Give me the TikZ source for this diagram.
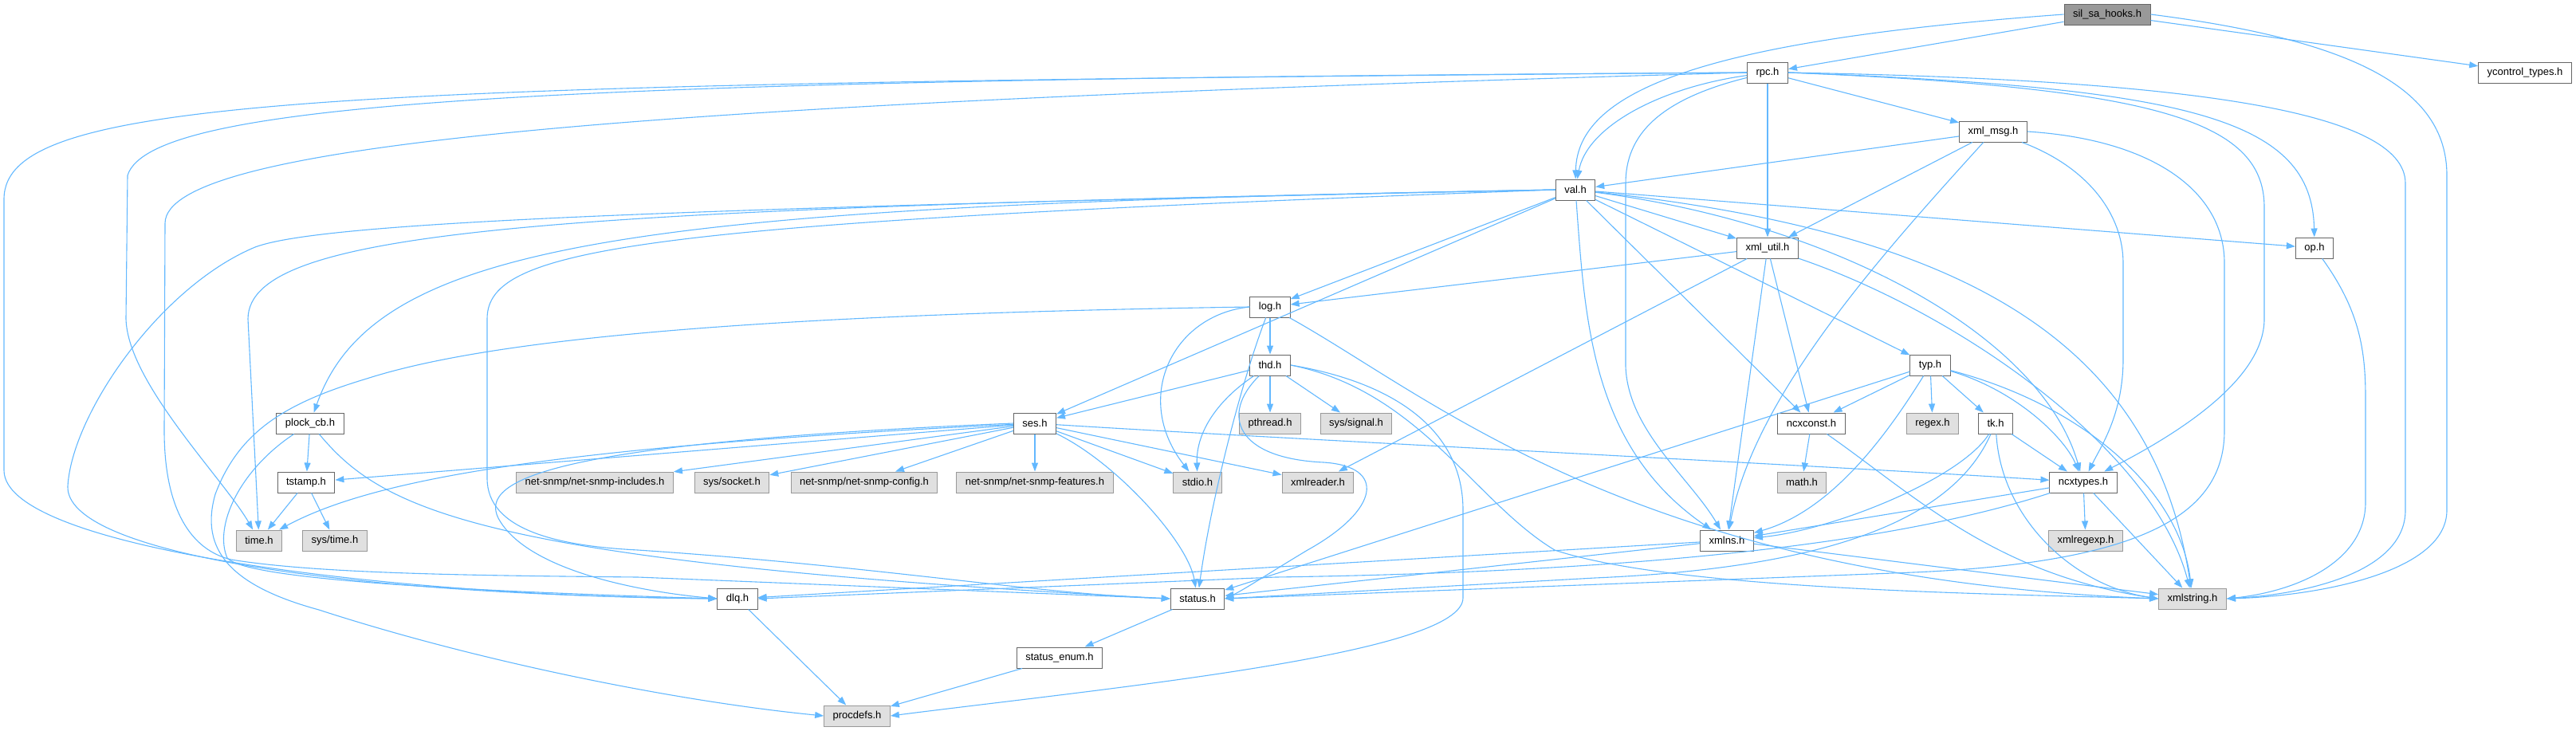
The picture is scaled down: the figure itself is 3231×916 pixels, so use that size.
\documentclass[tikz,border=0pt]{standalone}
\usepackage{amsmath}
\usepackage{amssymb}
\usepackage{fontspec}
\setmainfont{Liberation Sans}
\usetikzlibrary{arrows.meta}
\definecolor{edgeblue}{HTML}{63B8FF}
\definecolor{boxline}{HTML}{666666}
\definecolor{sysline}{HTML}{999999}
\definecolor{sysfill}{HTML}{E0E0E0}
\definecolor{rootfill}{HTML}{999999}

\begin{document}
\begin{tikzpicture}[x=1pt,y=-1pt,
  hdr/.style={draw=boxline,fill=white,line width=1pt,minimum height=26pt,inner xsep=11pt,inner ysep=0pt,font=\fontsize{13}{15}\selectfont},
  sys/.style={hdr,draw=sysline,fill=sysfill},
  root/.style={hdr,fill=rootfill},
  dep/.style={draw=edgeblue,line width=1.1pt,-{Triangle[length=11pt,width=8pt]}}]
\useasboundingbox (0,0) rectangle (3231,916);

\node[root] (silsa) at (2643,18) {sil\_sa\_hooks.h};
\node[hdr] (rpc) at (2217,91) {rpc.h};
\node[hdr] (yctl) at (3167,91) {ycontrol\_types.h};
\node[hdr] (xmsg) at (2500,165) {xml\_msg.h};
\node[hdr] (val) at (1976,238) {val.h};
\node[hdr] (xutil) at (2217,311) {xml\_util.h};
\node[hdr] (op) at (2903,311) {op.h};
\node[hdr] (log) at (1593,385) {log.h};
\node[hdr] (thd) at (1593,458) {thd.h};
\node[hdr] (typ) at (2421,458) {typ.h};
\node[hdr] (plock) at (389,531) {plock\_cb.h};
\node[hdr] (ses) at (1298,531) {ses.h};
\node[sys] (pthread) at (1593,531) {pthread.h};
\node[sys] (signal) at (1701,531) {sys/signal.h};
\node[hdr] (ncxconst) at (2272,531) {ncxconst.h};
\node[sys] (regex) at (2424,531) {regex.h};
\node[hdr] (tk) at (2503,531) {tk.h};
\node[hdr] (tstamp) at (384,605) {tstamp.h};
\node[sys] (snmpinc) at (746,605) {net-snmp/net-snmp-includes.h};
\node[sys] (socket) at (918,605) {sys/socket.h};
\node[sys] (snmpcfg) at (1084,605) {net-snmp/net-snmp-config.h};
\node[sys] (snmpfeat) at (1298,605) {net-snmp/net-snmp-features.h};
\node[sys] (stdio) at (1502,605) {stdio.h};
\node[sys] (xreader) at (1653,605) {xmlreader.h};
\node[sys] (math) at (2260,605) {math.h};
\node[hdr] (ncxtypes) at (2613,605) {ncxtypes.h};
\node[sys] (time) at (325,678) {time.h};
\node[sys] (systime) at (420,678) {sys/time.h};
\node[hdr] (xmlns) at (2166,678) {xmlns.h};
\node[sys] (xregexp) at (2616,678) {xmlregexp.h};
\node[hdr] (dlq) at (925,751) {dlq.h};
\node[hdr] (status) at (1502,751) {status.h};
\node[sys] (xstring) at (2750,751) {xmlstring.h};
\node[hdr] (senum) at (1329,825) {status\_enum.h};
\node[sys] (procdefs) at (1075,898) {procdefs.h};

\draw[dep] (silsa) -- (rpc);
\draw[dep] (silsa.west) .. controls (2150,50) and (1978,110) .. (val);
\draw[dep] (silsa) -- (yctl);
\draw[dep] (silsa.east) .. controls (2950,50) and (3069,110) .. (3069,220) -- (3069,640) .. controls (3069,720) and (2900,748) .. (xstring.east);

\draw[dep] (rpc) .. controls (2080,110) and (1990,160) .. (val);
\draw[dep] (rpc) -- (xutil);
\draw[dep] (rpc) -- (xmsg);
\draw[dep] (rpc.east) .. controls (2750,110) and (2900,150) .. (op);
\draw[dep] (rpc.east) .. controls (2700,110) and (2840,150) .. (2840,260) -- (2840,400) .. controls (2840,480) and (2720,550) .. (ncxtypes);
\draw[dep] (rpc.east) .. controls (2750,100) and (3017,140) .. (3017,230) -- (3017,640) .. controls (3017,715) and (2900,745) .. (xstring.east);
\draw[dep] (rpc) .. controls (2080,125) and (2039,170) .. (2039,230) -- (2039,460) .. controls (2042,540) and (2120,600) .. (xmlns);
\draw[dep] (rpc.west) .. controls (700,100) and (190,125) .. (160,220) -- (158,400) .. controls (160,480) and (280,600) .. (time);
\draw[dep] (rpc.west) .. controls (400,105) and (5,120) .. (5,250) -- (5,590) .. controls (5,690) and (500,748) .. (dlq.west);
\draw[dep] (rpc.west) .. controls (800,130) and (208,180) .. (207,280) -- (206,540) .. controls (206,640) and (240,690) .. (290,702) .. controls (400,720) and (600,722) .. (800,724) -- (status.west);

\draw[dep] (xmsg) -- (val);
\draw[dep] (xmsg) -- (xutil);
\draw[dep] (xmsg) .. controls (2350,330) and (2200,500) .. (xmlns);
\draw[dep] (xmsg) .. controls (2620,210) and (2663,270) .. (2663,330) -- (2663,450) .. controls (2663,520) and (2635,560) .. (ncxtypes);
\draw[dep] (xmsg.east) .. controls (2700,175) and (2790,240) .. (2790,330) -- (2790,540) .. controls (2790,640) and (2700,705) .. (2400,718) -- (status.east);

\draw[dep] (val) -- (xutil);
\draw[dep] (val) -- (op);
\draw[dep] (val) -- (log);
\draw[dep] (val) -- (typ);
\draw[dep] (val) -- (ncxconst);
\draw[dep] (val) .. controls (2300,280) and (2560,420) .. (ncxtypes);
\draw[dep] (val) .. controls (1988,400) and (1995,560) .. (xmlns);
\draw[dep] (val) .. controls (2450,290) and (2700,420) .. (xstring);
\draw[dep] (val) -- (ses);
\draw[dep] (val.west) .. controls (800,258) and (470,300) .. (plock);
\draw[dep] (val.west) .. controls (700,262) and (312,285) .. (311,400) -- (time);
\draw[dep] (val.west) .. controls (800,262) and (400,280) .. (320,310) .. controls (200,360) and (90,520) .. (85,610) .. controls (82,690) and (400,745) .. (dlq.west);
\draw[dep] (val.west) .. controls (800,280) and (611,310) .. (611,400) -- (611,600) .. controls (611,665) and (700,685) .. (800,690) .. controls (1100,710) and (1300,745) .. (status.west);

\draw[dep] (xutil) -- (log);
\draw[dep] (xutil) -- (ncxconst);
\draw[dep] (xutil) -- (xmlns);
\draw[dep] (xutil) -- (xreader);
\draw[dep] (xutil) .. controls (2450,390) and (2700,560) .. (xstring);

\draw[dep] (op) .. controls (2960,390) and (2967,440) .. (2967,500) -- (2967,630) .. controls (2967,705) and (2880,742) .. (xstring.east);

\draw[dep] (log) -- (thd);
\draw[dep] (log.west) .. controls (1470,395) and (1420,500) .. (stdio);
\draw[dep] (log) .. controls (1560,470) and (1520,620) .. (status);
\draw[dep] (log.west) .. controls (900,395) and (600,430) .. (460,475) .. controls (360,505) and (300,540) .. (270,620) .. controls (250,690) and (290,735) .. (400,765) .. controls (600,830) and (850,880) .. (procdefs.west);
\draw[dep] (log) .. controls (1800,500) and (2050,725) .. (xstring.west);

\draw[dep] (thd) -- (ses);
\draw[dep] (thd) .. controls (1530,500) and (1500,540) .. (stdio);
\draw[dep] (thd) -- (pthread);
\draw[dep] (thd) -- (signal);
\draw[dep] (thd) .. controls (1530,520) and (1550,575) .. (1660,580) .. controls (1740,585) and (1730,640) .. (1640,690) .. controls (1590,720) and (1560,740) .. (status.east);
\draw[dep] (thd.east) .. controls (1750,480) and (1835,540) .. (1835,640) -- (1835,750) .. controls (1835,820) and (1400,862) .. (procdefs.east);
\draw[dep] (thd.east) .. controls (1780,490) and (1850,630) .. (1950,690) .. controls (2100,740) and (2500,745) .. (xstring.west);

\draw[dep] (typ) -- (ncxconst);
\draw[dep] (typ) -- (regex);
\draw[dep] (typ) -- (tk);
\draw[dep] (typ) .. controls (2530,490) and (2590,550) .. (ncxtypes);
\draw[dep] (typ) .. controls (2370,540) and (2300,640) .. (xmlns);
\draw[dep] (typ) .. controls (2620,510) and (2735,620) .. (xstring);
\draw[dep] (typ) -- (status);

\draw[dep] (plock) -- (tstamp);
\draw[dep] (plock) .. controls (300,590) and (268,660) .. (285,700) .. controls (310,728) and (600,742) .. (dlq.west);
\draw[dep] (plock) .. controls (480,640) and (600,705) .. (status.west);

\draw[dep] (ses) -- (tstamp);
\draw[dep] (ses) .. controls (700,560) and (470,600) .. (time);
\draw[dep] (ses.west) .. controls (700,555) and (600,600) .. (625,650) .. controls (660,715) and (800,742) .. (dlq.west);
\draw[dep] (ses) -- (snmpinc);
\draw[dep] (ses) -- (socket);
\draw[dep] (ses) -- (snmpcfg);
\draw[dep] (ses) -- (snmpfeat);
\draw[dep] (ses) -- (stdio);
\draw[dep] (ses) .. controls (1400,580) and (1490,680) .. (status);
\draw[dep] (ses) -- (xreader);
\draw[dep] (ses) .. controls (1600,550) and (2300,585) .. (ncxtypes);

\draw[dep] (ncxconst) -- (math);
\draw[dep] (ncxconst) .. controls (2400,620) and (2500,720) .. (xstring.west);

\draw[dep] (tk) -- (ncxtypes);
\draw[dep] (tk) .. controls (2460,600) and (2300,665) .. (xmlns);
\draw[dep] (tk) .. controls (2510,650) and (2600,735) .. (xstring.west);
\draw[dep] (tk) .. controls (2450,650) and (2300,712) .. (2000,725) -- (status.east);

\draw[dep] (ncxtypes) -- (xregexp);
\draw[dep] (ncxtypes) -- (xstring);
\draw[dep] (ncxtypes) -- (xmlns);
\draw[dep] (ncxtypes) .. controls (2350,690) and (2000,718) .. (1600,724) -- (dlq.east);

\draw[dep] (xmlns) -- (xstring);
\draw[dep] (xmlns) -- (status);
\draw[dep] (xmlns) -- (dlq);

\draw[dep] (tstamp) -- (time);
\draw[dep] (tstamp) -- (systime);
\draw[dep] (dlq) -- (procdefs);
\draw[dep] (status) -- (senum);
\draw[dep] (senum) -- (procdefs);
\end{tikzpicture}
\end{document}
